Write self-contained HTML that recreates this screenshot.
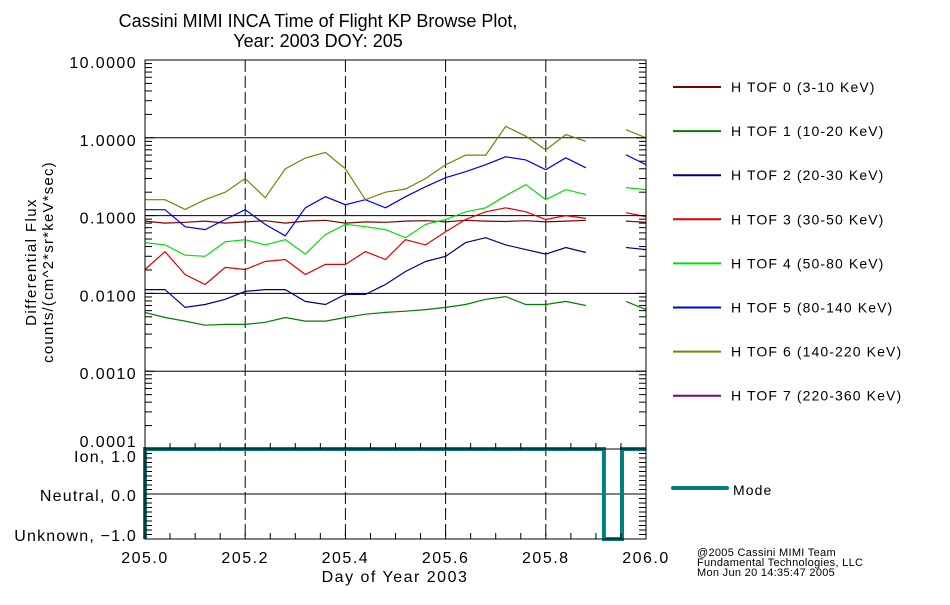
<!DOCTYPE html>
<html><head><meta charset="utf-8"><style>
body{margin:0;background:#fff}
svg text{font-family:"Liberation Sans","DejaVu Sans",sans-serif;fill:#000}
</style></head><body>
<svg id="chart" width="950" height="600" viewBox="0 0 950 600" xmlns="http://www.w3.org/2000/svg">
<rect width="950" height="600" fill="#fff"/>
<text x="318" y="27" font-size="18" letter-spacing="0" text-anchor="middle">Cassini MIMI INCA Time of Flight KP Browse Plot,</text>
<text x="318" y="47" font-size="18" letter-spacing="0" text-anchor="middle">Year: 2003 DOY: 205</text>
<text transform="translate(36,262) rotate(-90)" font-size="15" letter-spacing="1.4" text-anchor="middle">Differential Flux</text>
<text transform="translate(53,262) rotate(-90)" font-size="15" letter-spacing="1.2" text-anchor="middle">counts/(cm^2*sr*keV*sec)</text>
<text x="395" y="582" font-size="16" letter-spacing="1.5" text-anchor="middle">Day of Year 2003</text>
<text x="697" y="556" font-size="11" letter-spacing="0.3">@2005 Cassini MIMI Team</text>
<text x="697" y="566" font-size="11" letter-spacing="0.3">Fundamental Technologies, LLC</text>
<text x="697" y="576" font-size="11" letter-spacing="0.3">Mon Jun 20 14:35:47 2005</text>
<g id="grid"></g><g id="series"></g><g id="axes"></g><g id="legend"></g>
</svg>
<script>
const days = [205.00,205.04,205.08,205.12,205.16,205.20,205.24,205.28,205.32,205.36,205.40,205.44,205.48,205.52,205.56,205.60,205.64,205.68,205.72,205.76,205.80,205.84,205.88,205.96,206.00];
const tof0 = [0.085,0.080,0.082,0.085,0.080,0.083,0.086,0.080,0.085,0.087,0.080,0.083,0.082,0.085,0.086,0.083,0.087,0.085,0.084,0.086,0.083,0.085,0.087,0.085,0.082];
const tof1 = [0.0057,0.0049,0.0044,0.0039,0.0040,0.0040,0.00425,0.0049,0.0044,0.0044,0.0049,0.0054,0.0057,0.0059,0.0062,0.0066,0.0072,0.0084,0.0091,0.0072,0.0072,0.0079,0.0070,0.0079,0.0062];
const tof2 = [0.0112,0.0112,0.0066,0.0072,0.0084,0.0106,0.0112,0.0112,0.0079,0.0072,0.0097,0.0097,0.013,0.0191,0.0257,0.030,0.045,0.052,0.042,0.0366,0.032,0.0389,0.0336,0.0389,0.0366];
const tof3 = [0.0203,0.0345,0.0175,0.013,0.0216,0.0203,0.0257,0.0273,0.0175,0.0236,0.0236,0.0345,0.0273,0.049,0.042,0.062,0.089,0.112,0.126,0.112,0.089,0.100,0.092,0.109,0.097];
const tof4 = [0.045,0.042,0.031,0.030,0.046,0.049,0.042,0.049,0.032,0.057,0.077,0.072,0.066,0.052,0.077,0.089,0.112,0.126,0.18,0.25,0.16,0.216,0.186,0.229,0.216];
const tof5 = [0.119,0.119,0.072,0.066,0.089,0.119,0.077,0.055,0.126,0.175,0.138,0.16,0.126,0.175,0.235,0.307,0.367,0.451,0.57,0.52,0.389,0.554,0.412,0.605,0.451];
const tof6 = [0.16,0.16,0.12,0.16,0.20,0.30,0.17,0.40,0.55,0.65,0.40,0.16,0.20,0.22,0.30,0.45,0.60,0.60,1.40,1.05,0.70,1.10,0.90,1.27,1.00];
const seriesNames = ["H TOF 0 (3-10 KeV)","H TOF 1 (10-20 KeV)","H TOF 2 (20-30 KeV)","H TOF 3 (30-50 KeV)","H TOF 4 (50-80 KeV)","H TOF 5 (80-140 KeV)","H TOF 6 (140-220 KeV)","H TOF 7 (220-360 KeV)"];
const seriesColors = ["#7f0000","#007f00","#00007f","#e00000","#00e000","#0000e0","#7f7f00","#7f007f"];
const gapAfter = 205.90;
const modeDays = [205.0,205.0,205.916,205.916,205.952,205.952,206.0];
const modeVals = [-1,1,1,-1,-1,1,1];
const yTickVals = [10,1,0.1,0.01,0.001,0.0001];
const yTickLabels = ["10.0000","1.0000","0.1000","0.0100","0.0010","0.0001"];
const xTickVals = [205.0,205.2,205.4,205.6,205.8,206.0];
const xTickLabels = ["205.0","205.2","205.4","205.6","205.8","206.0"];
const modeTickVals = [1,0,-1];
const modeTickLabels = ["Ion, 1.0","Neutral, 0.0","Unknown, \u22121.0"];

const L=145,R=646,T=60,B=449,MB=539;
const NS="http://www.w3.org/2000/svg";
const x=d=>L+(d-205)*(R-L);
const y=v=>T+(1-Math.log10(v))*(B-T)/5;
const ym=v=>B+(1-v)*(MB-B)/2;
function mk(tag,attrs,parent){const e=document.createElementNS(NS,tag);for(const k in attrs)e.setAttribute(k,attrs[k]);document.getElementById(parent).appendChild(e);return e;}

yTickVals.slice(1,5).forEach(v=>{
  const e=mk('line',{x1:L,x2:R,y1:y(v),y2:y(v),stroke:'#000','stroke-width':1},'grid');
  
  
});
{const e=mk('line',{x1:L,x2:R,y1:ym(0),y2:ym(0),stroke:'#000','stroke-width':1},'grid');

}
xTickVals.slice(1,5).forEach(d=>{
  const e=mk('line',{x1:x(d),x2:x(d),y1:T,y2:MB,stroke:'#000','stroke-width':1,'stroke-dasharray':'12,4'},'grid');
  
  
});

const allSeries=[tof0,tof1,tof2,tof3,tof4,tof5,tof6];
allSeries.forEach((vals,i)=>{
  let s1=[],s2=[];
  days.forEach((d,j)=>{(d<gapAfter?s1:s2).push(x(d).toFixed(1)+','+y(vals[j]).toFixed(1));});
  [s1,s2].forEach(seg=>{
    const e=mk('polyline',{points:seg.join(' '),fill:'none',stroke:seriesColors[i],'stroke-width':1.2},'series');
    
    
  });
});
{const pts=modeDays.map((d,j)=>x(d).toFixed(1)+','+ym(modeVals[j]).toFixed(1)).join(' ');
const e=mk('polyline',{points:pts,fill:'none',stroke:'#008080','stroke-width':4,'stroke-linejoin':'miter'},'series');

}

{const e=mk('rect',{x:L,y:T,width:R-L,height:MB-T,fill:'none',stroke:'#000','stroke-width':1},'axes');

}
{const e=mk('line',{x1:L,x2:R,y1:B,y2:B,stroke:'#000','stroke-width':1},'axes');

}
for(let dec=-4;dec<1;dec++){for(let m=2;m<10;m++){const v=m*Math.pow(10,dec);
  [[L,L+7],[R,R-7]].forEach(p=>{const e=mk('line',{x1:p[0],x2:p[1],y1:y(v),y2:y(v),stroke:'#000'},'axes');
  
  });}}
const yLabelDy=[8,8,8,8,8,-2];
yTickVals.forEach((v,i)=>{
  [[L,L+10],[R,R-10]].forEach(p=>{const e=mk('line',{x1:p[0],x2:p[1],y1:y(v),y2:y(v),stroke:'#000'},'axes');
  
  });
  const t=mk('text',{x:137,y:y(v)+yLabelDy[i],'font-size':16,'letter-spacing':1.4,'text-anchor':'end'},'axes');t.textContent=yTickLabels[i];
  
  
});
for(let k=0;k<=20;k++){const v=1-k*0.1;[[L,L+7],[R,R-7]].forEach(p=>{const e=mk('line',{x1:p[0],x2:p[1],y1:ym(v),y2:ym(v),stroke:'#000'},'axes');
  
  });}
const modeDy=[13,7,2];
modeTickVals.forEach((v,i)=>{const t=mk('text',{x:137,y:ym(v)+modeDy[i],'font-size':16,'letter-spacing':1.2,'text-anchor':'end'},'axes');t.textContent=modeTickLabels[i];
  
  });
for(let k=0;k<=20;k++){const d=205+k*0.05;[[B,B-6],[MB,MB-6]].forEach(p=>{const e=mk('line',{x1:x(d),x2:x(d),y1:p[0],y2:p[1],stroke:'#000'},'axes');
  
  });}
xTickVals.forEach((d,i)=>{const t=mk('text',{x:x(d),y:563,'font-size':16,'letter-spacing':1.5,'text-anchor':'middle'},'axes');t.textContent=xTickLabels[i];
  
  });

seriesNames.forEach((n,i)=>{const ly=87+i*44.1;
  const e=mk('line',{x1:673,x2:721,y1:ly,y2:ly,stroke:seriesColors[i],'stroke-width':2},'legend');
  
  
  const t=mk('text',{x:731,y:ly+5,'font-size':14,'letter-spacing':1.1},'legend');t.textContent=n;
  
  });
{const e=mk('line',{x1:673,x2:727,y1:488,y2:488,stroke:'#008080','stroke-width':4,'stroke-linecap':'round'},'legend');


const t=mk('text',{x:733,y:495,'font-size':14,'letter-spacing':1.1},'legend');t.textContent='Mode';

}
</script>
</body></html>
